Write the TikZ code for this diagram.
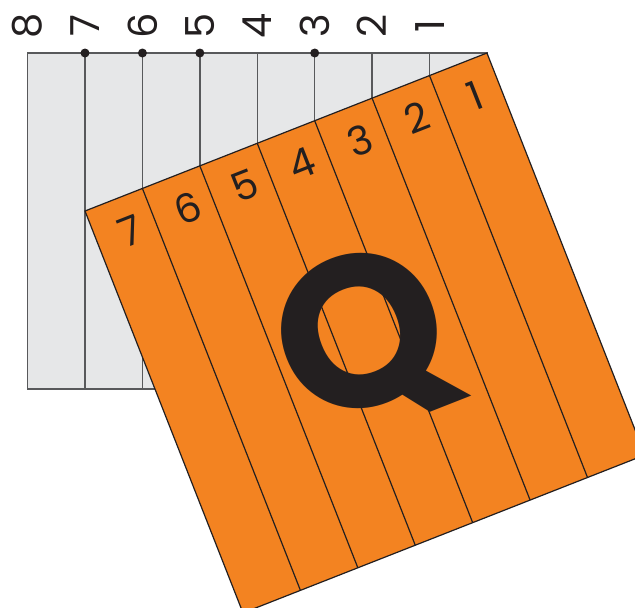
\documentclass[tikz,border=0pt]{standalone}
\usepackage{fontspec}
\setmainfont{Poppins}
\usepackage{xcolor}
\definecolor{ink}{HTML}{231F20}
\definecolor{paper}{HTML}{E6E7E8}
\definecolor{edge}{HTML}{58595B}
\definecolor{peel}{HTML}{F38321}
\usepackage{tikz}
\tikzset{
  num/.style={font=\fontsize{40}{40}\selectfont,text=ink,inner sep=0pt},
  fold/.style={draw=ink,line width=1.2pt},
  crease/.style={draw=edge,line width=1.4pt},
  bigq/.style={font=\fontsize{215}{215}\selectfont\bfseries,text=ink,inner sep=0pt},
}

\begin{document}
\begin{tikzpicture}[x=1pt,y=1pt]
  \clip (0,0) rectangle (635,-608);
  % grey strip of 8
  \fill[paper] (27.6,-53) rectangle (487,-389);
  \foreach \n in {1,...,7}{\draw[crease] (487-\n*57.43,-53) -- (487-\n*57.43,-389);}
  \draw[crease] (27.6,-53) rectangle (487,-389);
  \foreach \n in {8,...,1}{\node[num,rotate=90] (g\n) at (487-\n*57.43,-26) {\n};}
  \foreach \n in {7,6,5,3}{\fill[ink] (487-\n*57.43,-53) circle (4.5);}
  % orange square of 7
  \begin{scope}[shift={(85,-211)},rotate=21.46]
    \filldraw[fill=peel,fold] (0,0) rectangle (431.9,-431.9);
    \foreach \k in {1,...,6}{\draw[fold] (\k*61.7,0) -- (\k*61.7,-431.9);}
    \foreach \k [evaluate=\k as \n using int(7-\k)] in {0,...,6}{
      \node[num,rotate=21.46] (s\n) at (\k*61.7+34.8,-35) {\n};}
  \end{scope}
  \node[bigq,rotate=21.46] (q) at (364,-342) {Q};
\end{tikzpicture}
\end{document}
